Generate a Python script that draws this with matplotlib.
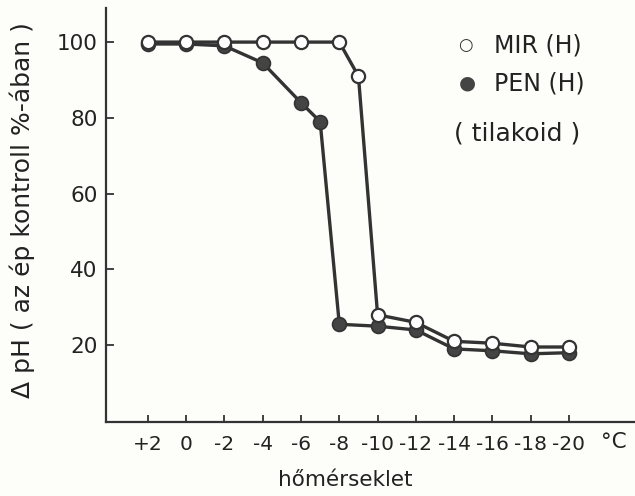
import matplotlib
matplotlib.use("Agg")
import matplotlib.pyplot as plt

# temperatures (°C) and values (% of intact control)
mir_temp = [2, 0, -2, -4, -6, -8, -9, -10, -12, -14, -16, -18, -20]
mir_vals = [100, 100, 100, 100, 100, 100, 91, 28, 26, 21, 20.5, 19.5, 19.5]
pen_temp = [2, 0, -2, -4, -6, -7, -8, -10, -12, -14, -16, -18, -20]
pen_vals = [99.5, 99.5, 99, 94.5, 84, 79, 25.5, 25, 24, 19, 18.5, 17.7, 18]
tick_temps = [2, 0, -2, -4, -6, -8, -10, -12, -14, -16, -18, -20]
tick_labels = ["+2", "0", "-2", "-4", "-6", "-8", "-10", "-12", "-14", "-16", "-18", "-20"]
y_ticks = [20, 40, 60, 80, 100]

ink = "#333333"
txt = "#222222"
bg = "#fdfdfa"
plt.rcParams['font.family'] = ['DejaVu Sans']

fig = plt.figure(figsize=(6.35, 4.96), dpi=100, facecolor=bg)
ax = fig.add_axes([106/635, 1-422/496, (635-106)/635, (422-8)/496], facecolor=bg)

# x axis uses negated temperature so that colder is to the right
ax.plot([-t for t in pen_temp], pen_vals, color=ink, lw=2.4, marker='o',
        markersize=10, markerfacecolor="#444444", markeredgecolor=ink,
        markeredgewidth=1.2, zorder=3)
ax.plot([-t for t in mir_temp], mir_vals, color=ink, lw=2.4, marker='o',
        markersize=9.5, markerfacecolor="white", markeredgecolor=ink,
        markeredgewidth=1.6, zorder=4)

ax.set_xlim(-4.19, 23.45)
ax.set_ylim(-0.3, 109)

for s in ['top', 'right']:
    ax.spines[s].set_visible(False)
for s in ['left', 'bottom']:
    ax.spines[s].set_linewidth(1.6)
    ax.spines[s].set_color(ink)

ax.set_xticks([-t for t in tick_temps])
ax.set_xticklabels(tick_labels)
ax.set_yticks(y_ticks)
ax.tick_params(axis='x', direction='in', length=5, width=1.3, colors=ink,
               labelsize=14.5, pad=9, labelcolor=txt)
ax.tick_params(axis='y', direction='in', length=6, width=1.3, colors=ink,
               labelsize=15.5, pad=6, labelcolor=txt)

ax.text((614-106)/529, -(442-422)/414, "°C", transform=ax.transAxes,
        ha='center', va='center', fontsize=15.5, color=txt)
fig.text(345/635, 1-480/496, "hőmérseklet", ha='center', va='center',
         fontsize=15.5, color=txt)
fig.text(22/635, 1-210/496, "Δ pH ( az ép kontroll %-ában )", rotation=90,
         ha='center', va='center', fontsize=18, color=txt)

# legend
fig.text(465/635, 1-45/496, "○", ha='center', va='center', fontsize=12, color=ink)
fig.text(494/635, 1-45/496, "MIR (H)", ha='left', va='center', fontsize=17, color=txt)
fig.text(467/635, 1-83/496, "●", ha='center', va='center', fontsize=14, color="#444444")
fig.text(494/635, 1-83/496, "PEN (H)", ha='left', va='center', fontsize=17, color=txt)
fig.text(517/635, 1-134/496, "( tilakoid )", ha='center', va='center', fontsize=18, color=txt)

fig.savefig("out.png", dpi=100, facecolor=bg)
